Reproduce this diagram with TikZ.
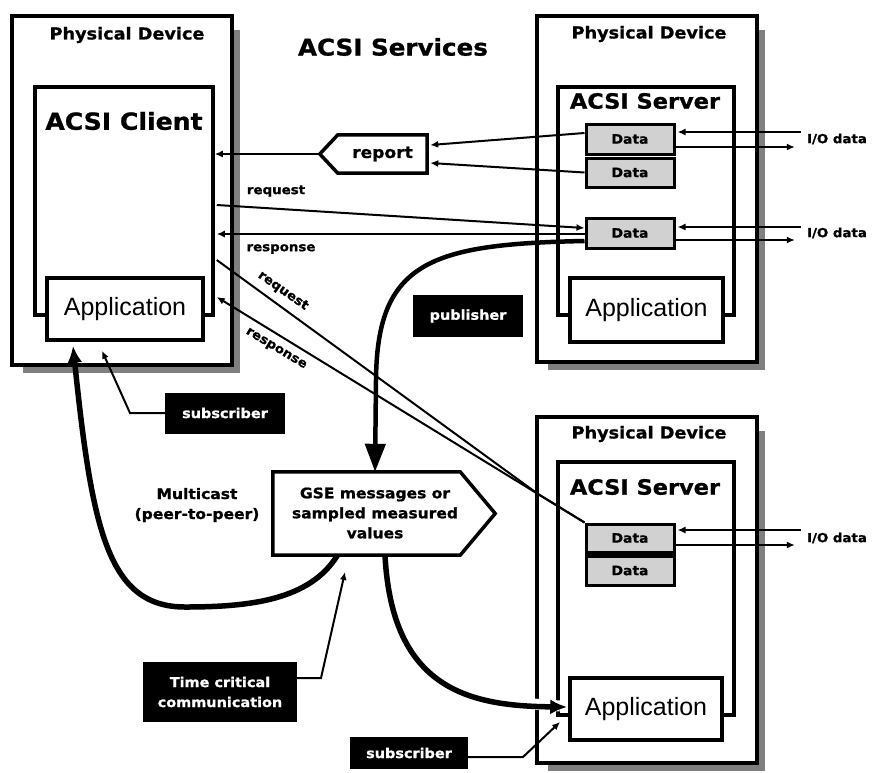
\documentclass[tikz,border=0pt]{standalone}
\usepackage{fontspec}
\setmainfont{Liberation Sans}
\newfontfamily\hb[FakeStretch=1.07,FakeBold=1]{DejaVu Sans Bold}
\usetikzlibrary{arrows.meta,calc}
\definecolor{shadowgray}{gray}{0.5}
\definecolor{datagray}{gray}{0.82}
\begin{document}
\begin{tikzpicture}[x=1pt,y=-1pt,
  devbox/.style={draw, line width=4pt, fill=white, inner sep=0pt},
  acsibox/.style={draw, line width=3.5pt, fill=white, inner sep=0pt},
  appbox/.style={draw, line width=3.5pt, fill=white, inner sep=0pt, font=\fontsize{25}{28}\selectfont},
  databox/.style={draw, line width=3pt, fill=datagray, inner sep=0pt, minimum width=88pt, font=\hb\fontsize{13}{16}\selectfont},
  blacklabel/.style={fill=black, text=white, inner sep=0pt, font=\hb\fontsize{13.5}{20}\selectfont, align=center},
  title/.style={font=\hb\fontsize{16.5}{20}\selectfont},
  lbl/.style={font=\hb\fontsize{12.5}{15}\selectfont, inner sep=0pt},
  iolbl/.style={font=\hb\fontsize{12.5}{15}\selectfont, inner sep=0pt},
  thinarrow/.style={line width=2pt, -{Latex[length=8pt,width=7pt]}},
  thinline/.style={line width=2pt},
  thickarrow/.style={line width=5.5pt, -{Latex[length=17pt,width=15pt]}},
]
\useasboundingbox (0,0) rectangle (874,772);

% shadows
\fill[shadowgray] (23,30) rectangle (240,373);
\fill[shadowgray] (548,30) rectangle (765,370);
\fill[shadowgray] (548,431) rectangle (765,771);

% left device
\node[devbox, minimum width=220pt, minimum height=349pt] (LD) at (122,190.5) {};
\node[title] (LDt) at (127,35) {Physical Device};
\node[acsibox, minimum width=178pt, minimum height=228pt] (LC) at (124,201) {};
\node[font=\hb\fontsize{23.5}{28}\selectfont] (LCt) at (124,121) {ACSI Client};
\node[appbox, minimum width=156pt, minimum height=62pt] (LA) at (125,309) {Application};

% top right device
\node[devbox, minimum width=220pt, minimum height=346pt] (RD1) at (647,189) {};
\node[title] (RD1t) at (649,34) {Physical Device};
\node[acsibox, minimum width=176pt, minimum height=228pt] (RS1) at (646,201) {};
\node[font=\hb\fontsize{21}{24}\selectfont] (RS1t) at (645,101) {ACSI Server};
\node[databox, minimum height=30pt] (D1) at (630,139) {Data};
\node[databox, minimum height=29pt] (D2) at (630,172.5) {Data};
\node[databox, minimum height=30pt] (D3) at (630,233) {Data};
\node[appbox, minimum width=153pt, minimum height=64pt] (RA1) at (646.5,310) {Application};

% bottom right device
\node[devbox, minimum width=220pt, minimum height=346pt] (RD2) at (647,590) {};
\node[title] (RD2t) at (649,434) {Physical Device};
\node[acsibox, minimum width=176pt, minimum height=253pt] (RS2) at (646,588.5) {};
\node[font=\hb\fontsize{21}{24}\selectfont] (RS2t) at (645,487) {ACSI Server};
\node[databox, minimum height=28pt] (D4) at (630,538) {Data};
\node[databox, minimum height=29pt] (D5) at (630,570.5) {Data};
\fill (D4.south west) rectangle (D5.north east);
\node[appbox, minimum width=152pt, minimum height=62pt] (RA2) at (646,709) {Application};

% title
\node[font=\hb\fontsize{23}{26}\selectfont] (title) at (393,47) {ACSI Services};

% report
\node[minimum width=89pt, minimum height=38pt, inner sep=0pt, font=\hb\fontsize{16}{18}\selectfont] (report) at (382.5,154) {report};
\coordinate (reporttip) at ($(report.west)+(-18,0)$);
\draw[line width=3.5pt, line join=miter] (report.north west) -- (report.north east) -- (report.south east) -- (report.south west) -- (reporttip) -- cycle;

% GSE
\node[minimum width=187pt, minimum height=83pt, inner sep=0pt] (gse) at (366.5,513.5) {};
\coordinate (gsetip) at ($(gse.east)+(35,0)$);
\draw[line width=3.5pt, fill=white] (gse.north west) -- (gse.north east) -- (gsetip) -- (gse.south east) -- (gse.south west) -- cycle;
\node[font=\hb\fontsize{14.5}{20}\selectfont, align=center] (gset) at (375,513) {GSE messages or\\sampled measured\\values};

% black labels
\node[blacklabel, minimum width=110pt, minimum height=42pt] (pub) at (468,316) {publisher};
\node[blacklabel, minimum width=120pt, minimum height=41pt] (sub1) at (225,413) {subscriber};
\node[blacklabel, minimum width=154pt, minimum height=60pt] (tc) at (220,692) {Time critical\\communication};
\node[blacklabel, minimum width=118pt, minimum height=32pt] (sub2) at (409,753) {subscriber};

% other texts
\node[lbl] (req1) at (276,191) {request};
\node[lbl] (resp1) at (281,249) {response};
\node[lbl, rotate=-35] (req2) at (283,291) {request};
\node[lbl, rotate=-31] (resp2) at (276,349) {response};
\node[font=\hb\fontsize{14.5}{20}\selectfont, align=center] (mc) at (197,505) {Multicast\\(peer-to-peer)};
\node[iolbl] (io1) at (837,139) {I/O data};
\node[iolbl] (io2) at (837,233) {I/O data};
\node[iolbl] (io3) at (837,538) {I/O data};

% report connectors
\draw[thinarrow] (reporttip) -- (reporttip -| LC.east);
\draw[thinarrow] ($(D1.west)+(0,-6)$) -- ($(report.east)+(3,-9)$);
\draw[thinarrow] (D2.west) -- ($(report.east)+(3,9)$);

% request / response horizontal
\draw[thinarrow] ($(LC.east)+(2,4)$) -- ($(D3.west)+(0,-5)$);
\draw[thinarrow] ($(D3.west)+(0,1)$) -- ($(D3.west -| LC.east)+(2,1)$);

% diagonal request / response
\coordinate (conv) at (538,494);
\draw[thinline] ($(LC.east)+(2,59)$) -- (conv) -- (D4.north west);
\draw[thinarrow] (D4.north west) -- (conv) -- ($(LC.east)+(2,96)$);

% publisher
\draw[line width=4.5pt, -{Triangle[length=28pt,width=20pt]}] ($(D3.west)+(0,8)$) .. controls (430,244) and (377,262) .. (376,380) -- (gset |- gse.north);

% I/O data
\draw[thinarrow] ($(io1.west)+(-6,-7)$) -- ($(D1.east)+(2,-7)$);
\draw[thinarrow] ($(D1.east)+(0,8)$) -- ($(io1.west)+(-12,8)$);
\draw[thinarrow] ($(io2.west)+(-6,-6)$) -- ($(D3.east)+(2,-6)$);
\draw[thinarrow] ($(D3.east)+(0,7)$) -- ($(io2.west)+(-12,7)$);
\draw[thinarrow] ($(io3.west)+(-6,-8)$) -- ($(D4.east)+(2,-8)$);
\draw[thinarrow] ($(D4.east)+(0,7)$) -- ($(io3.west)+(-12,7)$);

% multicast
\draw[thickarrow] ($(gse.south)+(-29,0)$) .. controls (310,600) and (250,607) .. (185,607) .. controls (108,607) and (92,530) .. ($(LA.south)+(-52,4)$);
% gse to application
\draw[white, line width=11pt] (520,703) -- (560,706);
\draw[thickarrow] ($(gse.south)+(18.5,0)$) .. controls (392,690) and (470,706) .. ($(RA2.west)+(-1,-2)$);

% subscriber / time critical pointers
\coordinate (s1b) at (130,413);
\draw[thinarrow] (sub1.west) -- (s1b) -- ($(LA.south)+(-23,9)$);
\coordinate (tcb) at (321,678);
\draw[thinarrow] ($(tc.east)+(0,-14)$) -- (tcb) -- (345,572);
\coordinate (s2b) at (523,757);
\draw[thinarrow] ($(sub2.east)+(0,4)$) -- (s2b) -- (560,722);
\end{tikzpicture}
\end{document}
